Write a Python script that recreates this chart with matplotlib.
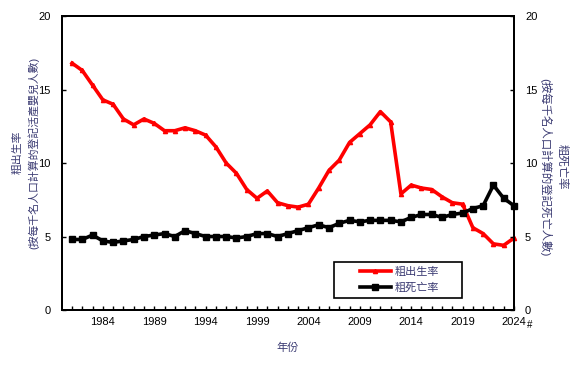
import matplotlib
matplotlib.use('Agg')
import matplotlib.pyplot as plt
from matplotlib.patches import Rectangle

plt.rcParams['font.family'] = ['Liberation Sans', 'Noto Sans CJK TC', 'DejaVu Sans']

years = list(range(1981, 2025))
birth_rate = [16.8, 16.3, 15.3, 14.3, 14.0, 13.0, 12.6, 13.0, 12.7, 12.2,
              12.2, 12.4, 12.2, 11.9, 11.1, 10.0, 9.3, 8.2, 7.6, 8.1,
              7.3, 7.1, 7.0, 7.2, 8.3, 9.5, 10.2, 11.4, 12.0, 12.6,
              13.5, 12.8, 7.9, 8.5, 8.3, 8.2, 7.7, 7.3, 7.2, 5.6,
              5.2, 4.5, 4.4, 4.9]
death_rate = [4.8, 4.8, 5.1, 4.7, 4.6, 4.7, 4.8, 5.0, 5.1, 5.2,
              5.0, 5.4, 5.2, 5.0, 5.0, 5.0, 4.9, 5.0, 5.2, 5.2,
              5.0, 5.2, 5.4, 5.6, 5.8, 5.6, 5.9, 6.1, 6.0, 6.1,
              6.1, 6.1, 6.0, 6.3, 6.5, 6.5, 6.3, 6.5, 6.6, 6.9,
              7.1, 8.5, 7.6, 7.1]
tick_years = list(range(1984, 2025, 5))
tick_labels = [str(y) for y in tick_years]

label_color = '#3a3a72'

fig = plt.figure(figsize=(5.79, 3.66), dpi=100)
ax = fig.add_axes([0.1066, 0.153, 0.7811, 0.803])

ax.plot(years, birth_rate, color='#ff0000', lw=2.6, marker='^', ms=3,
        label='粗出生率', clip_on=False, zorder=3)
ax.plot(years, death_rate, color='black', lw=2.6, marker='s', ms=4.5,
        label='粗死亡率', clip_on=False, zorder=3)

ax.set_xlim(1980, 2024)
ax.set_ylim(0, 20)
ax.set_yticks([0, 5, 10, 15, 20])
ax.set_xticks(tick_years)
ax.set_xticklabels(tick_labels)
ax.set_xticks(years, minor=True)
ax.tick_params(axis='both', which='both', direction='in', length=3, width=1,
               labelsize=8)
ax.tick_params(axis='y', pad=8)
ax.tick_params(axis='x', pad=5)
for s in ax.spines.values():
    s.set_linewidth(1.4)

ax2 = ax.twinx()
ax2.set_ylim(0, 20)
ax2.set_yticks([0, 5, 10, 15, 20])
ax2.tick_params(axis='y', direction='in', length=3, width=1, labelsize=8, pad=8)
for s in ax2.spines.values():
    s.set_linewidth(1.4)

ax.annotate('#', xy=(2024, 0), xycoords='data', xytext=(9, -11),
            textcoords='offset points', fontsize=7, ha='left', va='center')

fig.text(0.045, 0.583, '粗出生率\n(按每千名人口計算的登記活產嬰兒人數)',
         rotation=90, ha='center', va='center', fontsize=7.8,
         color=label_color, linespacing=1.5)
fig.text(0.956, 0.544, '粗死亡率\n(按每千名人口計算的登記死亡人數)',
         rotation=270, ha='center', va='center', fontsize=8.2,
         color=label_color, linespacing=1.5)
fig.text(0.497, 0.05, '年份', ha='center', va='center', fontsize=8,
         color=label_color)

# legend box drawn by hand so it can be wider than its contents
box = (0.602, 0.041, 0.283, 0.122)
ax.add_patch(Rectangle(box[:2], box[2], box[3], transform=ax.transAxes,
                       facecolor='white', edgecolor='black', lw=1.2,
                       zorder=4))
leg = ax.legend(loc='center', bbox_to_anchor=(box[0] + box[2] / 2 + 0.003,
                                              box[1] + box[3] / 2),
                fontsize=8, frameon=False, handlelength=2.8,
                labelspacing=0.55, handletextpad=0.3, borderpad=0)
leg.set_zorder(5)
for t in leg.get_texts():
    t.set_color(label_color)

fig.savefig('out.png', dpi=100)
